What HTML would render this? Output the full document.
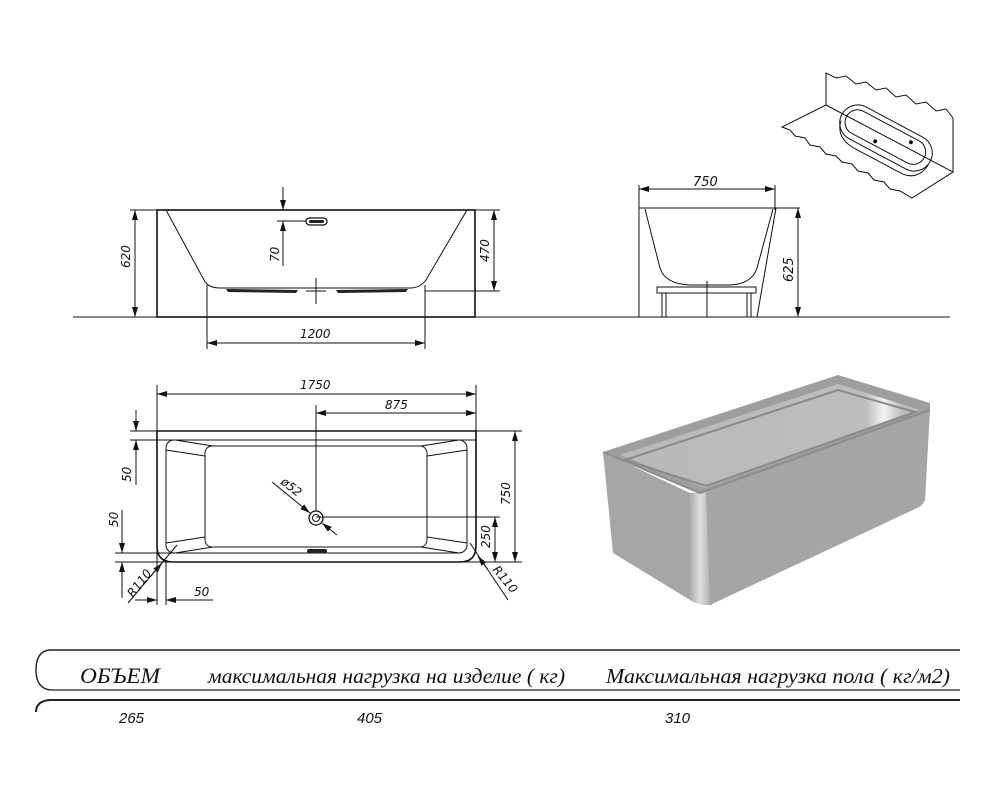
<!DOCTYPE html>
<html><head><meta charset="utf-8"><style>
html,body{margin:0;padding:0;background:#fff;}
svg{display:block;}
.l{stroke:#111;stroke-width:1;fill:none;}
.t{stroke:#111;stroke-width:1.6;fill:none;}
.d{font-family:"DejaVu Sans","Liberation Sans",sans-serif;font-style:italic;font-size:12px;fill:#111;}
.h{font-family:"Liberation Serif",serif;font-style:italic;font-size:21px;fill:#111;}
.n{font-family:"Liberation Sans",sans-serif;font-style:italic;font-size:15px;fill:#111;}
</style></head><body>
<svg width="1000" height="800" viewBox="0 0 1000 800" xmlns="http://www.w3.org/2000/svg">
<defs>
<marker id="a" viewBox="0 0 10 6" refX="10" refY="3" markerWidth="10" markerHeight="6" orient="auto-start-reverse" markerUnits="userSpaceOnUse"><path d="M0,0 L10,3 L0,6z" fill="#111"/></marker>
<linearGradient id="cg" x1="0" x2="1"><stop offset="0" stop-color="#a0a0a0"/><stop offset="0.5" stop-color="#e0e0e0"/><stop offset="1" stop-color="#a8a8a8"/></linearGradient>
<linearGradient id="ig" x1="0" x2="1"><stop offset="0" stop-color="#b8b8b8"/><stop offset="0.82" stop-color="#bdbdbd"/><stop offset="0.88" stop-color="#f2f2f2"/><stop offset="0.94" stop-color="#bcbcbc"/></linearGradient>
</defs>

<line class="l" x1="73" y1="317" x2="950" y2="317"/>

<!-- SIDE VIEW -->
<rect class="t" x="157" y="210" width="318" height="107"/>
<line class="l" x1="130" y1="210" x2="500" y2="210"/>
<path class="l" d="M166,210 L204,280 Q208,288 220,288 L410,288 Q420,288 426,280 L467,210"/>
<path d="M226,289 L298,290 L296,293 L228,292z M336,290 L408,289 L406,292 L338,293z" fill="#222"/>
<line class="l" x1="316" y1="278" x2="316" y2="304"/>
<line class="l" x1="306" y1="291" x2="326" y2="291"/>
<line class="l" x1="135" y1="210" x2="135" y2="317" marker-start="url(#a)" marker-end="url(#a)"/>
<text class="d" transform="translate(130,268) rotate(-90)">620</text>
<line class="l" x1="425" y1="291" x2="500" y2="291"/>
<line class="l" x1="494" y1="210" x2="494" y2="291" marker-start="url(#a)" marker-end="url(#a)"/>
<text class="d" transform="translate(489,262) rotate(-90)">470</text>
<line class="l" x1="207" y1="285" x2="207" y2="349"/>
<line class="l" x1="425" y1="285" x2="425" y2="349"/>
<line class="l" x1="207" y1="343" x2="425" y2="343" marker-start="url(#a)" marker-end="url(#a)"/>
<text class="d" x="300" y="338">1200</text>
<line class="l" x1="283" y1="187" x2="283" y2="210" marker-end="url(#a)"/>
<line class="l" x1="283" y1="266" x2="283" y2="221" marker-end="url(#a)"/>
<line class="l" x1="277" y1="221" x2="307" y2="221"/>
<rect x="306" y="218" width="21" height="7" rx="3.5" fill="#fff" stroke="#111" stroke-width="1.3"/>
<rect x="309" y="220" width="15" height="3" rx="1.5" fill="#222"/>
<text class="d" transform="translate(279,262) rotate(-90)">70</text>

<!-- END VIEW -->
<line class="l" x1="639" y1="185" x2="639" y2="317"/>
<line class="l" x1="775" y1="185" x2="775" y2="210"/>
<line class="l" x1="639" y1="189" x2="775" y2="189" marker-start="url(#a)" marker-end="url(#a)"/>
<text class="d" x="693" y="186" style="font-size:13px">750</text>
<line class="l" x1="639" y1="208" x2="800" y2="208"/>
<line class="l" x1="798" y1="208" x2="798" y2="317" marker-start="url(#a)" marker-end="url(#a)"/>
<text class="d" transform="translate(793,282) rotate(-90)" style="font-size:13px">625</text>
<path class="l" d="M645,209 L660,268 Q665,284 690,285 L730,285 Q752,284 757,268 L773,209"/>
<path class="l" d="M776,208 L757,317"/>
<rect class="l" x="657" y="287" width="99" height="6"/>
<line class="l" x1="662" y1="293" x2="662" y2="317"/><line class="l" x1="666" y1="293" x2="666" y2="317"/>
<line class="l" x1="747" y1="293" x2="747" y2="317"/><line class="l" x1="751" y1="293" x2="751" y2="317"/>
<line class="l" x1="707" y1="281" x2="707" y2="317"/>

<!-- INSET -->
<path class="l" d="M826,105 L826,73 L836,78 L846,76 L856,84 L866,82 L876,90 L886,88 L896,97 L906,95 L916,104 L926,102 L936,111 L946,109 L953,118 L953,172"/>
<path class="l" d="M826,105 L782,127 L790,130 L795,136 L805,138 L810,145 L820,147 L826,154 L836,156 L842,162 L852,164 L858,171 L868,173 L874,180 L884,182 L890,189 L900,191 L912,198 L953,172 L826,105"/>
<g transform="translate(886,138) rotate(28)">
<rect class="l" x="-50" y="-18" width="100" height="36" rx="18" fill="#fff"/>
<rect class="l" x="-45" y="-13" width="88" height="25" rx="12.5"/>
<path class="l" d="M-48,6 Q-44,24 -22,24 L32,24 Q48,22 50,4"/>
<circle cx="-8" cy="8" r="2" fill="#111"/><circle cx="24" cy="-8" r="2" fill="#111"/>
</g>

<!-- PLAN VIEW -->
<line class="l" x1="130" y1="431" x2="522" y2="431"/>
<line class="l" x1="130" y1="440" x2="476" y2="440"/>
<path class="t" d="M157,431 L476,431 L476,546 Q476,562 460,562 L173,562 Q157,562 157,546 Z"/>
<rect class="l" x="166" y="440" width="301" height="113" rx="8"/>
<rect class="l" x="205" y="446" width="222" height="101" rx="7"/>
<path class="l" d="M175,440 L213,446 M166,450 L205,456 M166,543 L205,537 M175,553 L213,547 M459,440 L421,446 M467,450 L427,456 M467,543 L427,537 M459,553 L421,547"/>
<line class="l" x1="115" y1="553" x2="172" y2="553"/>
<line class="l" x1="115" y1="562" x2="522" y2="562"/>
<line class="l" x1="157" y1="385" x2="157" y2="605"/>
<line class="l" x1="166" y1="560" x2="166" y2="605"/>
<line class="l" x1="476" y1="385" x2="476" y2="431"/>
<line class="l" x1="157" y1="394" x2="476" y2="394" marker-start="url(#a)" marker-end="url(#a)"/>
<text class="d" x="300" y="389">1750</text>
<line class="l" x1="316" y1="405" x2="316" y2="518"/>
<line class="l" x1="316" y1="413" x2="476" y2="413" marker-start="url(#a)" marker-end="url(#a)"/>
<text class="d" x="385" y="409">875</text>
<circle cx="316" cy="518" r="7" fill="#fff" stroke="#111" stroke-width="1.3"/>
<circle cx="316" cy="518" r="3.5" fill="none" stroke="#111"/>
<line class="l" x1="316" y1="517" x2="500" y2="517"/>
<line class="l" x1="495" y1="517" x2="495" y2="562" marker-start="url(#a)" marker-end="url(#a)"/>
<text class="d" transform="translate(490,548) rotate(-90)">250</text>
<line class="l" x1="515" y1="431" x2="515" y2="562" marker-start="url(#a)" marker-end="url(#a)"/>
<text class="d" transform="translate(510,505) rotate(-90)">750</text>
<line class="l" x1="272" y1="482" x2="310" y2="513" marker-end="url(#a)"/>
<line class="l" x1="337" y1="535" x2="322" y2="523" marker-end="url(#a)"/>
<text class="d" transform="translate(280,483) rotate(39)">ø52</text>
<rect x="307" y="549" width="20" height="4" rx="2" fill="#222"/>
<line class="l" x1="136" y1="410" x2="136" y2="431" marker-end="url(#a)"/>
<line class="l" x1="136" y1="485" x2="136" y2="440" marker-end="url(#a)"/>
<text class="d" transform="translate(131,482) rotate(-90)">50</text>
<line class="l" x1="122" y1="510" x2="122" y2="553" marker-end="url(#a)"/>
<line class="l" x1="122" y1="598" x2="122" y2="562" marker-end="url(#a)"/>
<text class="d" transform="translate(118,527) rotate(-90)">50</text>
<line class="l" x1="135" y1="600" x2="157" y2="600" marker-end="url(#a)"/>
<line class="l" x1="213" y1="600" x2="166" y2="600" marker-end="url(#a)"/>
<text class="d" x="194" y="596">50</text>
<line class="l" x1="128" y1="603" x2="177" y2="545" />
<line class="l" x1="150" y1="577" x2="162" y2="563" marker-end="url(#a)"/>
<text class="d" transform="translate(133,598) rotate(-52)">R110</text>
<line class="l" x1="470" y1="543" x2="508" y2="600"/>
<line class="l" x1="488" y1="570" x2="478" y2="556" marker-end="url(#a)"/>
<text class="d" transform="translate(492,570) rotate(50)">R110</text>

<!-- 3D RENDER -->
<path d="M603,452 L838,375 L930,403 L930,412 L700,493 Z" fill="#9e9e9e"/>
<path d="M620,455 L838,384 L920,410 L705,488 Z" fill="url(#ig)"/>
<path d="M625,460 L838,390 L915,412 L706,486 Z" fill="none" stroke="#8a8a8a" stroke-width="2"/>
<path d="M603,452 L690,493 L690,600 L613,553 Z" fill="#a6a6a6"/>
<path d="M688,493 Q700,493 708,492 L712,605 Q698,606 690,600 Z" fill="url(#cg)"/>
<path d="M706,492 L930,410 L925,500 Q922,507 915,509 L710,605 Z" fill="#a5a5a5"/>
<path d="M603,452 L700,493 L930,410" fill="none" stroke="#8c8c8c" stroke-width="2"/>

<!-- TABLE -->
<path d="M50,690 Q36,688 36,670 Q36,651 50,650 L960,650" fill="none" stroke="#222" stroke-width="1.4"/>
<line x1="50" y1="690" x2="960" y2="690" stroke="#222" stroke-width="1.2"/>
<path d="M36,712 Q36,701 50,700 L960,700" fill="none" stroke="#222" stroke-width="2"/>
<text class="h" x="80" y="683" textLength="80" lengthAdjust="spacingAndGlyphs" style="font-size:22px">ОБЪЕМ</text>
<text class="h" x="208" y="683" textLength="357" lengthAdjust="spacingAndGlyphs">максимальная нагрузка на изделие ( кг)</text>
<text class="h" x="606" y="683" textLength="344" lengthAdjust="spacingAndGlyphs">Максимальная нагрузка пола ( кг/м2)</text>
<text class="n" x="119" y="723">265</text>
<text class="n" x="357" y="723">405</text>
<text class="n" x="665" y="723">310</text>
</svg>
</body></html>
